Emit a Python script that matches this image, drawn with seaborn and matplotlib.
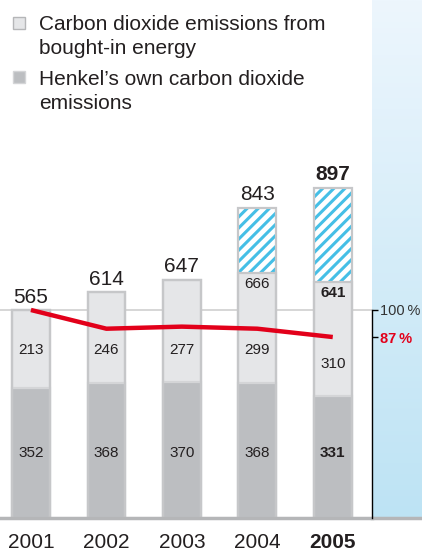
import numpy as np
import pandas as pd
import matplotlib
matplotlib.use("Agg")
import matplotlib.pyplot as plt
from matplotlib.patches import Rectangle
from matplotlib.colors import LinearSegmentedColormap
import seaborn as sns

# ---------------- DATA ----------------
years = ["2001", "2002", "2003", "2004", "2005"]
own = [352, 368, 370, 368, 331]          # Henkel's own CO2 emissions
bought = [213, 246, 277, 299, 310]       # CO2 from bought-in energy
subtotal = [565, 614, 647, 666, 641]     # own + bought-in
total = [565, 614, 647, 843, 897]        # incl. hatched part
index_pct = [100, 91, 92, 91, 87]        # indexed, 2001 = 100 %
pct_ticks = [100, 87]
pct_labels = ["100\u2009%", "87\u2009%"]

legend_lines = ["Carbon dioxide emissions from", "bought-in energy",
                "Henkel\u2019s own carbon dioxide", "emissions"]

# label heights (data units)
bought_label_y = [455, 455, 455, 455, 418]
own_label_y = 177

# ---------------- STYLE ----------------
LIGHT = "#e5e6e8"
DARK = "#bcbec1"
EDGE = "#c6c7c9"
BLUE = "#45bfe6"
RED = "#e2001a"
TXT = "#231f20"
BASE = "#b5b6b8"

sns.set_style("white")
plt.rcParams["font.family"] = ["Liberation Sans", "DejaVu Sans"]
plt.rcParams["hatch.linewidth"] = 2.2

df = pd.DataFrame({"year": years, "own": own, "bought": bought,
                   "subtotal": subtotal, "total": total, "pct": index_pct})

fig = plt.figure(figsize=(4.22, 5.51), dpi=100)
W, H = 422, 551

# light blue gradient panel on the right
pax = fig.add_axes([372 / W, 33 / H, 50 / W, 518 / H])
cmap = LinearSegmentedColormap.from_list("panel", ["#edf6fd", "#bde3f4"])
pax.imshow(np.linspace(0, 1, 256)[:, None], cmap=cmap, aspect="auto",
           extent=[0, 1, 0, 1])
pax.set_xticks([])
pax.set_yticks([])
for s in ["top", "left", "right"]:
    pax.spines[s].set_visible(False)
pax.spines["bottom"].set_color(BASE)
pax.spines["bottom"].set_linewidth(2.5)

ax = fig.add_axes([0, 33 / H, 372 / W, 518 / H])
YMAX = 1407

# ---------------- BARS ----------------
sns.barplot(data=df, x="year", y="total", ax=ax, width=0.5, color="white",
            saturation=1, edgecolor=BLUE, linewidth=0, hatch="///",
            errorbar=None)
sns.barplot(data=df, x="year", y="subtotal", ax=ax, width=0.5, color=LIGHT,
            saturation=1, edgecolor=EDGE, linewidth=1.6, errorbar=None)
sns.barplot(data=df, x="year", y="own", ax=ax, width=0.5, color=DARK,
            saturation=1, edgecolor="#d4d5d7", linewidth=1.6, errorbar=None)
sns.barplot(data=df, x="year", y="total", ax=ax, width=0.5, color=EDGE,
            saturation=1, fill=False, linewidth=1.6, errorbar=None)

# 100 % reference level (2001 total)
ax.axhline(total[0], color="#cfcfcf", lw=1.2, zorder=0)

n = len(years)
for i in range(n):
    last = i == n - 1
    ax.text(i, total[i] + 20, str(total[i]), ha="center", va="baseline",
            fontsize=15, color=TXT, fontweight="bold" if last else "normal")
    if total[i] > subtotal[i]:
        ax.text(i, subtotal[i] - 30, str(subtotal[i]), ha="center",
                va="center", fontsize=11, color=TXT,
                fontweight="bold" if last else "normal")
    ax.text(i, bought_label_y[i], str(bought[i]), ha="center", va="center",
            fontsize=11, color=TXT)
    ax.text(i, own_label_y, str(own[i]), ha="center", va="center",
            fontsize=11, color=TXT, fontweight="bold" if last else "normal")

ax.set_ylim(0, YMAX)
ax.set_xlabel("")
ax.set_ylabel("")
ax.set_yticks([])
for s in ["top", "left", "right"]:
    ax.spines[s].set_visible(False)
ax.spines["bottom"].set_color(BASE)
ax.spines["bottom"].set_linewidth(2.5)
ax.tick_params(axis="x", length=0, pad=11, labelsize=15, labelcolor=TXT)
ax.get_xticklabels()[-1].set_fontweight("bold")

# ---------------- INDEX LINE ----------------
ax2 = ax.twinx()
sns.lineplot(x=years, y=index_pct, ax=ax2, color=RED, linewidth=3.2,
             solid_capstyle="butt")
ax2.set_ylim(0, YMAX * 100 / total[0])
ax2.set_xlabel("")
ax2.set_ylabel("")
for s in ["top", "left", "bottom"]:
    ax2.spines[s].set_visible(False)
ax2.spines["right"].set_color("black")
ax2.spines["right"].set_linewidth(1)
ax2.spines["right"].set_bounds(0, 100)
ax2.set_yticks(pct_ticks)
ax2.set_yticklabels(pct_labels)
ax2.tick_params(axis="y", length=4, width=1, color="black", pad=2,
                labelsize=10.5, labelcolor="#333333")
ax2.get_yticklabels()[1].set_color(RED)
ax2.get_yticklabels()[1].set_fontweight("bold")

ax.set_xlim(-0.41, 4.52)

# ---------------- LEGEND ----------------
fig.add_artist(Rectangle((13 / W, 1 - 29 / H), 12 / W, 12 / H,
                         transform=fig.transFigure, facecolor=LIGHT,
                         edgecolor="#b5b6b8", lw=1))
fig.add_artist(Rectangle((13 / W, 1 - 83 / H), 12 / W, 12 / H,
                         transform=fig.transFigure, facecolor=DARK,
                         edgecolor="#d4d5d7", lw=1))
for txt, base in zip(legend_lines, [30, 54, 85, 109]):
    fig.text(39 / W, 1 - base / H, txt, ha="left", va="baseline",
             fontsize=15, color=TXT)

fig.savefig("out.png", dpi=100)
